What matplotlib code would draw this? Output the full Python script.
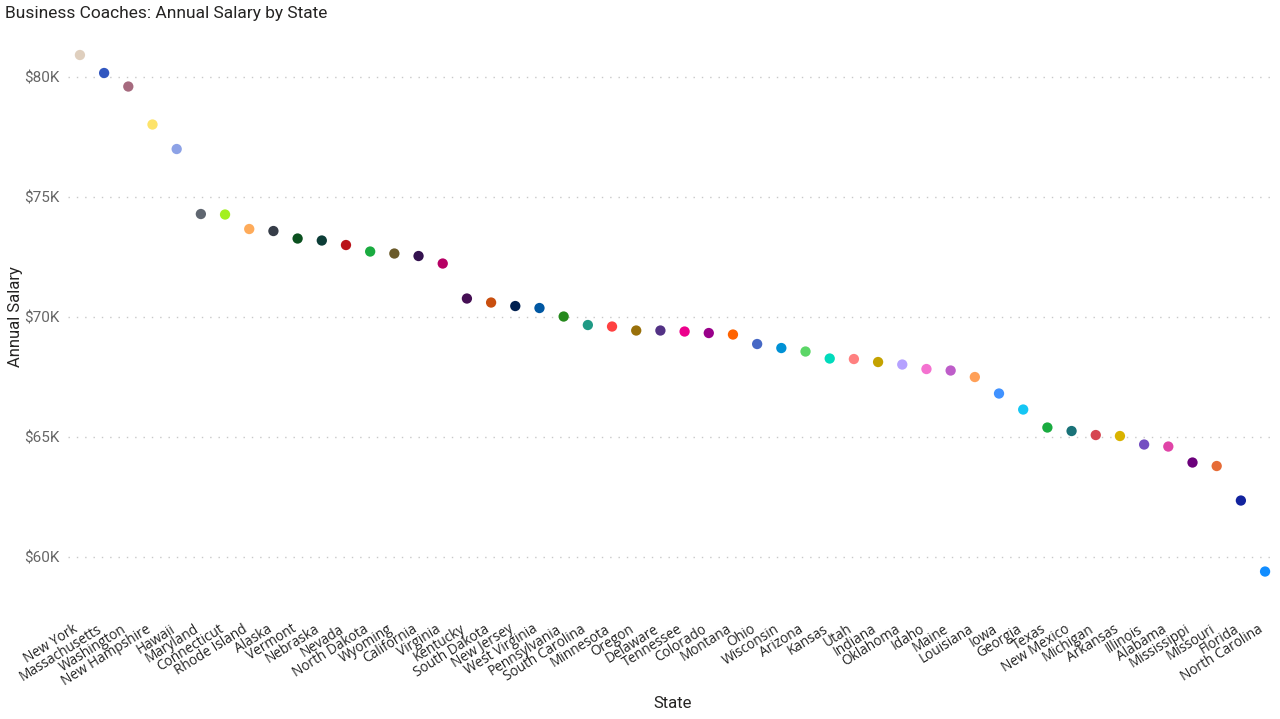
import matplotlib.pyplot as plt
from matplotlib.transforms import ScaledTranslation

states = ["New York", "Massachusetts", "Washington", "New Hampshire", "Hawaii",
          "Maryland", "Connecticut", "Rhode Island", "Alaska", "Vermont",
          "Nebraska", "Nevada", "North Dakota", "Wyoming", "California",
          "Virginia", "Kentucky", "South Dakota", "New Jersey", "West Virginia",
          "Pennsylvania", "South Carolina", "Minnesota", "Oregon", "Delaware",
          "Tennessee", "Colorado", "Montana", "Ohio", "Wisconsin",
          "Arizona", "Kansas", "Utah", "Indiana", "Oklahoma",
          "Idaho", "Maine", "Louisiana", "Iowa", "Georgia",
          "Texas", "New Mexico", "Michigan", "Arkansas", "Illinois",
          "Alabama", "Mississippi", "Missouri", "Florida", "North Carolina"]

salary = [80917, 80167, 79604, 78021, 77000,
          74292, 74271, 73667, 73583, 73271,
          73188, 73000, 72729, 72646, 72542,
          72229, 70771, 70604, 70458, 70375,
          70021, 69667, 69604, 69438, 69438,
          69396, 69333, 69271, 68875, 68708,
          68563, 68271, 68250, 68125, 68021,
          67833, 67771, 67500, 66813, 66146,
          65396, 65250, 65083, 65042, 64688,
          64604, 63938, 63792, 62354, 59396]

colors = ["#DFCFBE", "#3257C0", "#A66A7E", "#FDE36A", "#8DA2E6",
          "#5F6670", "#A3F01E", "#FEAB5A", "#363D48", "#0B511F",
          "#0C3D37", "#BA141A", "#1AAB40", "#6A5A29", "#34124F",
          "#B60064", "#450F54", "#C94F0F", "#002050", "#0057A2",
          "#25891C", "#1F9A85", "#FF4141", "#99700A", "#533285",
          "#EC008C", "#99008A", "#FF6300", "#4668C5", "#0091D5",
          "#5BD667", "#00DBBC", "#FF8080", "#C4A200", "#B5A1FF",
          "#F472D0", "#BE5DC9", "#FFA058", "#4092FF", "#15C6F4",
          "#1AAB40", "#197278", "#D64550", "#D9B300", "#744EC2",
          "#E044A7", "#6B007B", "#E66C37", "#12239E", "#118DFF"]

yticks = [60000, 65000, 70000, 75000, 80000]
ytick_labels = ["$60K", "$65K", "$70K", "$75K", "$80K"]

fig = plt.figure(figsize=(12.8, 7.19), dpi=100)
ax = fig.add_axes([0.053, 0.1585, 0.941, 0.7928])

x = list(range(len(states)))
ax.scatter(x, salary, c=colors, s=55, zorder=3, linewidths=0)

ax.set_xlim(-0.5, len(states) - 0.7)
ax.set_ylim(58000, 81750)

ax.set_yticks(yticks)
ax.set_yticklabels(ytick_labels, fontsize=11, color="#666666", family="Roboto")
ax.set_xticks(x)
ax.set_xticklabels([])
ax.tick_params(length=0)
ax.tick_params(axis="y", pad=6)

# state names, set a little left of each point like the original
offset = ScaledTranslation(-5 / 72, -12 / 72, fig.dpi_scale_trans)
for i, name in zip(x, states):
    ax.text(i, 0, name, transform=ax.get_xaxis_transform() + offset,
            rotation=32, ha="right", va="top", rotation_mode="anchor",
            fontsize=9.8, family="Open Sans", color="#222222", clip_on=False)

ax.grid(axis="y", color="#C8C8C8", linestyle=(0, (1, 5)), linewidth=1)
ax.set_axisbelow(True)
for s in ax.spines.values():
    s.set_visible(False)

fig.text(673 / 1280, 1 - 704 / 719, "State", fontsize=12, color="#252423",
         family="Roboto", ha="center", va="center")
fig.text(16 / 1280, 1 - 317 / 719, "Annual Salary", fontsize=12, color="#252423",
         family="Roboto", ha="center", va="center", rotation=90)

fig.text(0.004, 0.992, "Business Coaches: Annual Salary by State", fontsize=12.5,
         color="#252423", family="Roboto", ha="left", va="top")

fig.savefig("out.png", dpi=100)
